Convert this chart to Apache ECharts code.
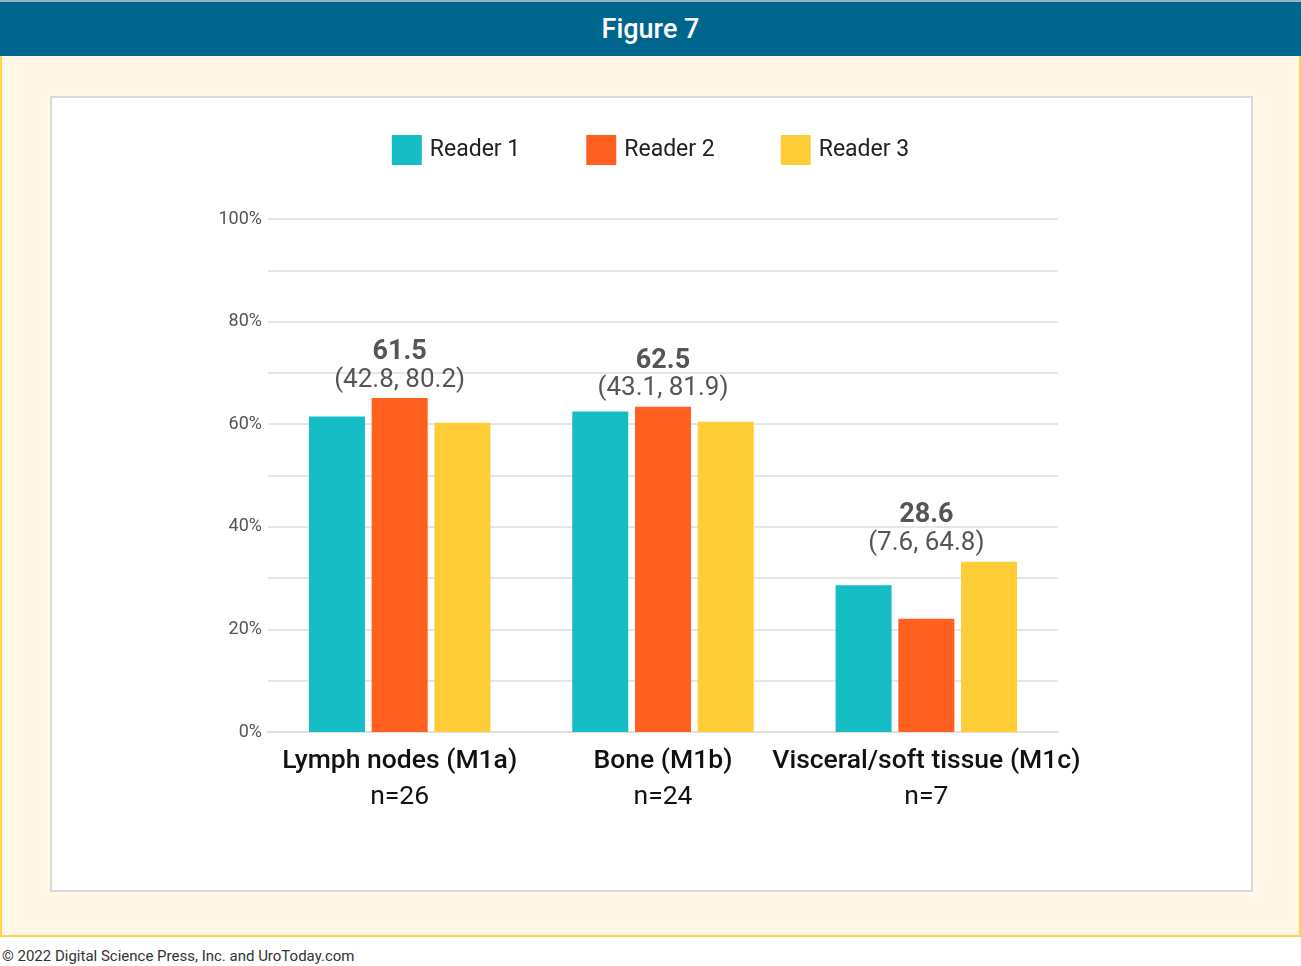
<!DOCTYPE html>
<html>
<head>
<meta charset="utf-8">
<script src="https://cdn.jsdelivr.net/npm/echarts@6/dist/echarts.min.js"></script>
<style>
  html, body { margin:0; padding:0; width:1301px; height:966px; background:#ffffff; overflow:hidden; font-family: Roboto, "Noto Sans", sans-serif; }
  #header { position:absolute; left:0; top:0; width:1301px; height:56px; background:#00658D; border-top:2px solid #8fb6c8; box-sizing:border-box; color:#fff; font-size:27px; font-weight:500; text-align:center; line-height:54px; }
  #frame { position:absolute; left:0; top:56px; width:1301px; height:881px; background:#FFF8E9; border:2px solid #FFD54F; border-top:none; box-sizing:border-box; }
  #panel { position:absolute; left:50px; top:96px; width:1203px; height:796px; background:#ffffff; border:2px solid #d9d9d9; box-sizing:border-box; }
  #footer { position:absolute; left:2px; top:947px; font-size:15px; color:#333; }
  #chart { position:absolute; left:0; top:0; width:1301px; height:966px; }
</style>
</head>
<body>
<div id="header">Figure 7</div>
<div id="frame"></div>
<div id="panel"></div>
<div id="footer">© 2022 Digital Science Press, Inc. and UroToday.com</div>
<div id="chart"></div>
<script>
// ---- data ----
const categories = ['Lymph nodes (M1a)', 'Bone (M1b)', 'Visceral/soft tissue (M1c)'];
const sampleSizes = ['n=26', 'n=24', 'n=7'];
const seriesNames = ['Reader 1', 'Reader 2', 'Reader 3'];
const reader1 = [61.5, 62.5, 28.6];
const reader2 = [65.1, 63.4, 22.1];
const reader3 = [60.3, 60.5, 33.2];
const highlightValue = ['61.5', '62.5', '28.6'];
const ciLow = ['42.8', '43.1', '7.6'];
const ciHigh = ['80.2', '81.9', '64.8'];
const yTicks = [0, 20, 40, 60, 80, 100];

const colors = ['#17BDC4', '#FF5F1F', '#FFCD38'];
const groupMax = categories.map((c, i) => Math.max(reader1[i], reader2[i], reader3[i]));

const chart = echarts.init(document.getElementById('chart'), null, { renderer: 'canvas' });
const font = 'Roboto, "Noto Sans", sans-serif';

const barSeries = [reader1, reader2, reader3].map((d, k) => ({
  name: seriesNames[k],
  type: 'bar',
  data: d,
  barWidth: 56,
  barGap: '12%',
  itemStyle: { color: colors[k] },
  emphasis: { disabled: true }
}));

chart.setOption({
  animation: false,
  textStyle: { fontFamily: font },
  legend: {
    top: 130,
    left: 'center',
    itemWidth: 30,
    itemHeight: 30,
    itemGap: 66,
    icon: 'rect',
    data: seriesNames,
    textStyle: { fontSize: 23, color: '#222', fontFamily: font, padding: [0, 0, 0, 3] }
  },
  grid: { left: 268, right: 243, top: 219, bottom: 234 },
  xAxis: {
    type: 'category',
    data: categories,
    axisLine: { show: true, lineStyle: { color: '#e0e0e0', width: 2 } },
    axisTick: { show: false },
    axisLabel: {
      margin: 11,
      interval: 0,
      formatter: (v, i) => '{a|' + v + '}\n{b|' + sampleSizes[i] + '}',
      rich: {
        a: { fontSize: 26.5, fontWeight: 500, color: '#111', lineHeight: 36, fontFamily: font },
        b: { fontSize: 26.5, fontWeight: 400, color: '#111', lineHeight: 36, fontFamily: font }
      }
    }
  },
  yAxis: {
    type: 'value',
    min: 0,
    max: 100,
    interval: 10,
    axisLine: { show: false },
    axisTick: { show: false },
    splitLine: { show: true, lineStyle: { color: '#e6e6e6', width: 2 } },
    axisLabel: {
      margin: 6,
      fontSize: 18,
      color: '#555',
      formatter: v => (yTicks.indexOf(v) >= 0 ? v + '%' : '')
    }
  },
  series: barSeries.concat([{
    name: 'annot',
    type: 'scatter',
    data: groupMax.map((m, i) => [i, m]),
    symbolSize: 0,
    silent: true,
    z: 10,
    label: {
      show: true,
      position: 'top',
      distance: 4,
      align: 'center',
      formatter: p => '{h|' + highlightValue[p.dataIndex] + '}\n{c|(' + ciLow[p.dataIndex] + ', ' + ciHigh[p.dataIndex] + ')}',
      rich: {
        h: { fontSize: 27, fontWeight: 'bold', color: '#2a2a2a', lineHeight: 28, fontFamily: font, align: 'center' },
        c: { fontSize: 26, fontWeight: 400, color: '#2a2a2a', lineHeight: 28, fontFamily: font, align: 'center' }
      }
    }
  }])
});
</script>
</body>
</html>
